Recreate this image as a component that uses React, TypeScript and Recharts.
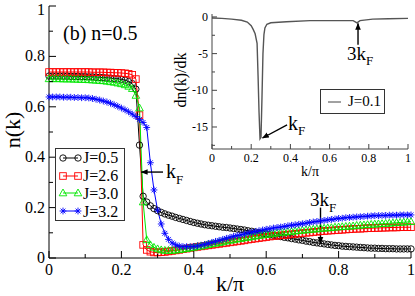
import React from 'react';
import { LineChart, Line, XAxis, YAxis, Legend, ReferenceLine, CartesianGrid } from 'recharts';

// k/pi grid of the main panel (step 0.01)
const kGrid = Array.from({ length: 101 }, (_, i) => i / 100);

// n(k), one value per k
const nJ05 = [
  0.722, 0.722, 0.722, 0.722, 0.722, 0.722, 0.721, 0.721, 0.721, 0.72,
  0.72, 0.719, 0.719, 0.718, 0.717, 0.716, 0.715, 0.714, 0.712, 0.711,
  0.709, 0.706, 0.7, 0.692, 0.67, 0.448, 0.245, 0.222, 0.207, 0.196,
  0.188, 0.181, 0.175, 0.17, 0.166, 0.161, 0.157, 0.153, 0.149, 0.145,
  0.141, 0.138, 0.135, 0.132, 0.13, 0.128, 0.126, 0.124, 0.122, 0.121,
  0.119, 0.117, 0.115, 0.113, 0.111, 0.108, 0.106, 0.103, 0.1, 0.097,
  0.095, 0.092, 0.09, 0.087, 0.085, 0.082, 0.08, 0.077, 0.075, 0.072,
  0.07, 0.067, 0.065, 0.062, 0.06, 0.058, 0.056, 0.054, 0.052, 0.05,
  0.049, 0.047, 0.046, 0.045, 0.044, 0.043, 0.042, 0.041, 0.04, 0.039,
  0.039, 0.038, 0.038, 0.037, 0.037, 0.037, 0.036, 0.036, 0.036, 0.036, 0.036,
];
const nJ26 = [
  0.738, 0.738, 0.738, 0.738, 0.738, 0.738, 0.738, 0.738, 0.738, 0.738,
  0.738, 0.738, 0.737, 0.737, 0.737, 0.737, 0.736, 0.736, 0.735, 0.735,
  0.734, 0.733, 0.731, 0.727, 0.71, 0.567, 0.052, 0.032, 0.025, 0.022,
  0.022, 0.023, 0.024, 0.026, 0.028, 0.03, 0.032, 0.035, 0.037, 0.04,
  0.042, 0.044, 0.046, 0.048, 0.05, 0.052, 0.054, 0.056, 0.058, 0.06,
  0.062, 0.064, 0.066, 0.068, 0.07, 0.073, 0.075, 0.077, 0.079, 0.081,
  0.083, 0.085, 0.087, 0.088, 0.09, 0.091, 0.093, 0.094, 0.096, 0.097,
  0.099, 0.1, 0.101, 0.103, 0.104, 0.106, 0.107, 0.108, 0.109, 0.11,
  0.111, 0.112, 0.113, 0.114, 0.115, 0.116, 0.116, 0.117, 0.118, 0.118,
  0.119, 0.119, 0.12, 0.12, 0.121, 0.121, 0.121, 0.122, 0.122, 0.122, 0.122,
];
const nJ30 = [
  0.711, 0.711, 0.711, 0.711, 0.71, 0.71, 0.71, 0.709, 0.709, 0.708,
  0.708, 0.707, 0.706, 0.705, 0.704, 0.703, 0.701, 0.699, 0.697, 0.694,
  0.691, 0.687, 0.681, 0.672, 0.645, 0.595, 0.222, 0.072, 0.052, 0.042,
  0.036, 0.032, 0.03, 0.03, 0.03, 0.031, 0.033, 0.035, 0.037, 0.04,
  0.042, 0.045, 0.047, 0.05, 0.053, 0.056, 0.058, 0.061, 0.064, 0.067,
  0.07, 0.072, 0.075, 0.077, 0.08, 0.082, 0.084, 0.087, 0.089, 0.091,
  0.093, 0.095, 0.097, 0.099, 0.101, 0.102, 0.104, 0.105, 0.107, 0.108,
  0.11, 0.111, 0.113, 0.114, 0.115, 0.117, 0.118, 0.119, 0.12, 0.122,
  0.123, 0.124, 0.125, 0.126, 0.127, 0.129, 0.13, 0.131, 0.132, 0.133,
  0.134, 0.135, 0.136, 0.137, 0.138, 0.139, 0.14, 0.141, 0.142, 0.143, 0.144,
];
const nJ32 = [
  0.639, 0.639, 0.639, 0.639, 0.638, 0.638, 0.638, 0.637, 0.637, 0.636,
  0.636, 0.635, 0.633, 0.63, 0.627, 0.623, 0.619, 0.614, 0.608, 0.602,
  0.595, 0.588, 0.58, 0.571, 0.561, 0.55, 0.538, 0.518, 0.378, 0.27,
  0.19, 0.135, 0.098, 0.074, 0.06, 0.052, 0.047, 0.045, 0.045, 0.045,
  0.046, 0.048, 0.051, 0.054, 0.058, 0.062, 0.066, 0.07, 0.074, 0.078,
  0.082, 0.086, 0.089, 0.092, 0.095, 0.099, 0.102, 0.105, 0.108, 0.111,
  0.114, 0.116, 0.119, 0.121, 0.123, 0.125, 0.128, 0.13, 0.132, 0.134,
  0.136, 0.138, 0.141, 0.143, 0.145, 0.147, 0.149, 0.151, 0.153, 0.155,
  0.157, 0.158, 0.16, 0.161, 0.162, 0.163, 0.164, 0.165, 0.166, 0.167,
  0.168, 0.168, 0.169, 0.169, 0.17, 0.17, 0.17, 0.171, 0.171, 0.171, 0.171,
];

// inset: dn(k)/dk for J=0.1
const kIn = [0, 0.05, 0.1, 0.15, 0.18, 0.2, 0.21, 0.22, 0.23, 0.235, 0.24, 0.245, 0.25, 0.255, 0.26, 0.265, 0.27, 0.28, 0.3, 0.38, 0.5, 0.6, 0.7, 0.72, 0.74, 0.755, 0.82, 0.9, 1.0];
const dnIn = [-0.15, -0.2, -0.3, -0.45, -0.7, -1.2, -1.7, -2.3, -3.6, -8, -13, -16.6, -16.4, -11, -5, -2.4, -1.5, -1.0, -0.8, -0.65, -0.5, -0.5, -0.5, -0.5, -0.8, -0.5, -0.3, -0.25, -0.2];

const mainTicksX = [0, 0.1, 0.2, 0.3, 0.4, 0.5, 0.6, 0.7, 0.8, 0.9, 1];
const mainTicksY = [0, 0.1, 0.2, 0.3, 0.4, 0.5, 0.6, 0.7, 0.8, 0.9, 1];
const inTicksX = [0, 0.1, 0.2, 0.3, 0.4, 0.5, 0.6, 0.7, 0.8, 0.9, 1];
const inTicksY = [0, -2.5, -5, -7.5, -10, -12.5, -15, -17.5];

const mainData = kGrid.map((k, i) => ({ k, j05: nJ05[i], j26: nJ26[i], j30: nJ30[i], j32: nJ32[i] }));
const insetData = kIn.map((k, i) => ({ k, dn: dnIn[i] }));

const FONT = "'Liberation Serif', 'Times New Roman', serif";
const RED = '#ff0000';
const GREEN = '#00e600';
const BLUE = '#0000ff';

const onStep = (v: number, step: number) => Math.abs(v / step - Math.round(v / step)) < 1e-6;
const fmt = (v: number) => (Math.abs(v) < 1e-9 ? '0' : Number.isInteger(v) ? String(v) : v.toFixed(1));

// markers
const circleDot = (p: any) => (p.cx == null ? null : (
  <circle key={`c${p.index}`} cx={p.cx} cy={p.cy} r={3.2} fill="none" stroke="#000" strokeWidth={0.9} />
));
const squareDot = (p: any) => (p.cx == null ? null : (
  <rect key={`s${p.index}`} x={p.cx - 3.3} y={p.cy - 3.3} width={6.6} height={6.6} fill="none" stroke={RED} strokeWidth={0.9} />
));
const triDot = (p: any) => (p.cx == null ? null : (
  <polygon key={`t${p.index}`} points={`${p.cx},${p.cy - 4} ${p.cx - 3.8},${p.cy + 2.8} ${p.cx + 3.8},${p.cy + 2.8}`} fill="none" stroke={GREEN} strokeWidth={0.9} />
));
const starDot = (p: any) => {
  if (p.cx == null) return null;
  const r = 3.4, d = 2.4;
  return (
    <g key={`a${p.index}`} stroke={BLUE} strokeWidth={0.9}>
      <line x1={p.cx - r} y1={p.cy} x2={p.cx + r} y2={p.cy} />
      <line x1={p.cx} y1={p.cy - r} x2={p.cx} y2={p.cy + r} />
      <line x1={p.cx - d} y1={p.cy - d} x2={p.cx + d} y2={p.cy + d} />
      <line x1={p.cx - d} y1={p.cy + d} x2={p.cx + d} y2={p.cy - d} />
    </g>
  );
};

const series = [
  { key: 'j05', name: 'J=0.5', color: '#000', dot: circleDot },
  { key: 'j26', name: 'J=2.6', color: RED, dot: squareDot },
  { key: 'j30', name: 'J=3.0', color: GREEN, dot: triDot },
  { key: 'j32', name: 'J=3.2', color: BLUE, dot: starDot },
];

// inward ticks, main panel
const MainBottomTick = ({ x, y, payload }: any) => {
  const major = onStep(payload.value, 0.2);
  return (
    <g>
      <line x1={x} x2={x} y1={y} y2={y - (major ? 7 : 4)} stroke="#000" />
      {major && <text x={x} y={y + 17} textAnchor="middle" fontSize={16} fontFamily={FONT} fill="#000">{fmt(payload.value)}</text>}
    </g>
  );
};
const MainLeftTick = ({ x, y, payload }: any) => {
  const major = onStep(payload.value, 0.2);
  return (
    <g>
      <line x1={x} x2={x + (major ? 7 : 4)} y1={y} y2={y} stroke="#000" />
      {major && (
        <text x={x - 4} y={Math.max(y + 5, 14.5)} textAnchor="end" fontSize={16} fontFamily={FONT} fill="#000">
          {fmt(payload.value)}
        </text>
      )}
    </g>
  );
};
const MainTopTick = ({ x, y, payload }: any) => (
  <line x1={x} x2={x} y1={y} y2={y + (onStep(payload.value, 0.2) ? 7 : 4)} stroke="#000" />
);
const MainRightTick = ({ x, y, payload }: any) => (
  <line x1={x} x2={x - (onStep(payload.value, 0.2) ? 7 : 4)} y1={y} y2={y} stroke="#000" />
);

// inward ticks, inset
const InBottomTick = ({ x, y, payload }: any) => {
  const major = onStep(payload.value, 0.2);
  return (
    <g>
      <line x1={x} x2={x} y1={y} y2={y - (major ? 5 : 3)} stroke="#444" />
      {major && <text x={x} y={y + 13} textAnchor="middle" fontSize={12} fontFamily={FONT} fill="#000">{fmt(payload.value)}</text>}
    </g>
  );
};
const InLeftTick = ({ x, y, payload }: any) => {
  const major = onStep(payload.value, 5);
  return (
    <g>
      <line x1={x} x2={x + (major ? 5 : 3)} y1={y} y2={y} stroke="#444" />
      {major && <text x={x - 4} y={y + 4} textAnchor="end" fontSize={12} fontFamily={FONT} fill="#000">{fmt(payload.value)}</text>}
    </g>
  );
};
const InTopTick = ({ x, y, payload }: any) => (
  <line x1={x} x2={x} y1={y} y2={y + (onStep(payload.value, 0.2) ? 5 : 3)} stroke="#444" />
);
const InRightTick = ({ x, y, payload }: any) => (
  <line x1={x} x2={x - (onStep(payload.value, 5) ? 5 : 3)} y1={y} y2={y} stroke="#444" />
);

const arrowShape = (id: string) => (props: any) => (
  <line x1={props.x1} y1={props.y1} x2={props.x2} y2={props.y2} stroke="#000" strokeWidth={1.4} markerEnd={`url(#${id})`} />
);

const ArrowDef = ({ id }: { id: string }) => (
  <defs>
    <marker id={id} viewBox="0 0 10 10" refX="9" refY="5" markerWidth="5" markerHeight="5" orient="auto">
      <path d="M0,1 L10,5 L0,9 z" fill="#000" />
    </marker>
  </defs>
);

const MainLegend = () => (
  <div style={{ border: '1px solid #333', background: '#fff', padding: 0, width: 68 }}>
    {series.map((s) => (
      <div key={s.key} style={{ display: 'flex', alignItems: 'center', height: 17.8 }}>
        <svg width={27} height={14} style={{ display: 'block', flex: 'none' }}>
          <line x1={7} y1={7} x2={22} y2={7} stroke={s.color} strokeWidth={1} />
          {s.dot({ cx: 7, cy: 7, index: 0 })}
          {s.dot({ cx: 22, cy: 7, index: 1 })}
        </svg>
        <span style={{ display: 'block', fontFamily: FONT, fontSize: 16, lineHeight: '17px', whiteSpace: 'nowrap' }}>{s.name}</span>
      </div>
    ))}
  </div>
);

const InsetLegend = () => (
  <div style={{ border: '1px solid #333', background: '#fff', height: 23, width: 63, display: 'flex', alignItems: 'center' }}>
    <svg width={27} height={10} style={{ display: 'block', flex: 'none' }}>
      <line x1={7} y1={5} x2={20} y2={5} stroke="#444" strokeWidth={1} />
    </svg>
    <span style={{ fontFamily: FONT, fontSize: 15, whiteSpace: 'nowrap' }}>J=0.1</span>
  </div>
);

const Inset = () => (
  <div style={{ position: 'absolute', left: 150, top: 0, width: 265, height: 185 }}>
    <LineChart width={265} height={185} data={insetData} margin={{ top: 14, right: 7, left: 0, bottom: 0 }}>
      <ArrowDef id="ahIn" />
      <CartesianGrid fill="#fff" horizontal={false} vertical={false} />
      <XAxis dataKey="k" type="number" domain={[0, 1]} ticks={inTicksX} interval={0} height={36}
        tickSize={0} tickMargin={0} tickLine={false} tick={InBottomTick} stroke="#444" />
      <XAxis xAxisId="top" orientation="top" dataKey="k" type="number" domain={[0, 1]} ticks={inTicksX} interval={0} height={0}
        tickSize={0} tickMargin={0} tickLine={false} tick={InTopTick} stroke="#444" />
      <YAxis type="number" domain={[-18, 0.4]} ticks={inTicksY} interval={0} width={62} allowDataOverflow
        tickSize={0} tickMargin={0} tickLine={false} tick={InLeftTick} stroke="#444" />
      <YAxis yAxisId="right" orientation="right" type="number" domain={[-18, 0.4]} ticks={inTicksY} interval={0} width={0} allowDataOverflow
        tickSize={0} tickMargin={0} tickLine={false} tick={InRightTick} stroke="#444" />
      <Line dataKey="dn" type="linear" stroke="#555" strokeWidth={1.4} dot={false} isAnimationActive={false} />
      <ReferenceLine segment={[{ x: 0.383, y: -14.7 }, { x: 0.258, y: -16.5 }]} shape={arrowShape('ahIn')} ifOverflow="visible" />
      <ReferenceLine segment={[{ x: 0.745, y: -3.8 }, { x: 0.745, y: -0.9 }]} shape={arrowShape('ahIn')} ifOverflow="visible" />
      <text x={138} y={130} fontSize={20} fontFamily={FONT}>k<tspan fontSize={13} dy={5}>F</tspan></text>
      <text x={197} y={60} fontSize={19} fontFamily={FONT}>3k<tspan fontSize={13} dy={5}>F</tspan></text>
      <text x={160} y={176} fontSize={14} textAnchor="middle" fontFamily={FONT}>k/π</text>
      <text transform="translate(36,80) rotate(-90)" fontSize={16} textAnchor="middle" fontFamily={FONT}>dn(k)/dk</text>
      <Legend content={InsetLegend} layout="horizontal" verticalAlign="middle" align="center"
        wrapperStyle={{ left: 170, top: 89, width: 65 }} />
    </LineChart>
  </div>
);

export default function App() {
  return (
    <div style={{ position: 'absolute', left: 0, top: 0, width: 415, height: 296, background: '#fff', fontFamily: FONT }}>
      <LineChart width={415} height={296} data={mainData} margin={{ top: 6, right: 4, left: 0, bottom: 0 }}>
        <ArrowDef id="ahMain" />
        <XAxis dataKey="k" type="number" domain={[0, 1]} ticks={mainTicksX} interval={0} height={38}
          tickSize={0} tickMargin={0} tickLine={false} tick={MainBottomTick} stroke="#000" />
        <XAxis xAxisId="top" orientation="top" dataKey="k" type="number" domain={[0, 1]} ticks={mainTicksX} interval={0} height={0}
          tickSize={0} tickMargin={0} tickLine={false} tick={MainTopTick} stroke="#000" />
        <YAxis type="number" domain={[0, 1]} ticks={mainTicksY} interval={0} width={49}
          tickSize={0} tickMargin={0} tickLine={false} tick={MainLeftTick} stroke="#000" />
        <YAxis yAxisId="right" orientation="right" type="number" domain={[0, 1]} ticks={mainTicksY} interval={0} width={0}
          tickSize={0} tickMargin={0} tickLine={false} tick={MainRightTick} stroke="#000" />
        {series.map((s) => (
          <Line key={s.key} dataKey={s.key} name={s.name} type="linear" stroke={s.color} strokeWidth={1}
            dot={s.dot} isAnimationActive={false} />
        ))}
        <ReferenceLine segment={[{ x: 0.315, y: 0.341 }, { x: 0.255, y: 0.341 }]} shape={arrowShape('ahMain')} />
        <ReferenceLine segment={[{ x: 0.75, y: 0.2 }, { x: 0.75, y: 0.058 }]} shape={arrowShape('ahMain')} />
        <text x={166} y={178} fontSize={20} fontFamily={FONT}>k<tspan fontSize={13} dy={6}>F</tspan></text>
        <text x={310} y={206} fontSize={19} fontFamily={FONT}>3k<tspan fontSize={13} dy={6}>F</tspan></text>
        <text x={63} y={40} fontSize={20} fontFamily={FONT}>(b) n=0.5</text>
        <text x={230} y={291} fontSize={22} textAnchor="middle" fontFamily={FONT}>k/π</text>
        <text transform="translate(20,130) rotate(-90)" fontSize={22} textAnchor="middle" fontFamily={FONT}>n(k)</text>
        <Legend content={MainLegend} layout="horizontal" verticalAlign="middle" align="center"
          wrapperStyle={{ left: 55, top: 148, width: 70 }} />
      </LineChart>
      <Inset />
    </div>
  );
}
